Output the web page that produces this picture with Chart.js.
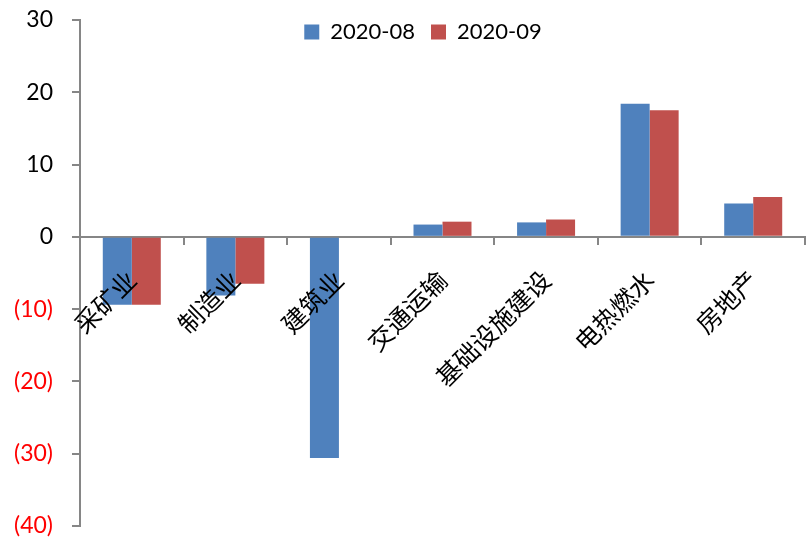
<!DOCTYPE html>
<html>
<head>
<meta charset="utf-8">
<script src="https://cdn.jsdelivr.net/npm/chart.js@4.4.0/dist/chart.umd.min.js"></script>
<style>
  html, body { margin: 0; padding: 0; background: #fff; }
  #wrap { width: 806px; height: 537px; }
</style>
</head>
<body>
<div id="wrap"><canvas id="myChart"></canvas></div>
<script>
const categories = ['采矿业', '制造业', '建筑业', '交通运输', '基础设施建设', '电热燃水', '房地产']
const aug = [-9.4, -8.1, -30.6, 1.7, 2.0, 18.4, 4.6]
const sep = [-9.4, -6.5, null, 2.1, 2.4, 17.5, 5.5]
const seriesNames = ['2020-08', '2020-09']
const yMin = -40
const yMax = 30

const axisGrey = '#868686'

// legend floats inside the plot (excel style) so it must not eat any height
let legendH = 0
const floatingLegend = {
  id: 'floatingLegend',
  afterInit(chart) {
    const lg = chart.legend
    const origFit = lg.fit.bind(lg)
    lg.fit = function () {
      origFit()
      legendH = this.height
      this.height = 0
    }
  },
  afterLayout(chart) {
    const lg = chart.legend
    lg.top = 5
    lg.height = legendH
    lg.bottom = lg.top + legendH
    lg.left += 19
    lg.right += 19
  }
}

const ctx = document.getElementById('myChart')
new Chart(ctx, {
  type: 'bar',
  plugins: [floatingLegend],
  data: {
    labels: categories,
    datasets: [{
      label: seriesNames[0],
      data: aug,
      backgroundColor: '#4F81BD',
      categoryPercentage: 0.56,
      barPercentage: 1
    }, {
      label: seriesNames[1],
      data: sep,
      backgroundColor: '#C0504D',
      categoryPercentage: 0.56,
      barPercentage: 1
    }]
  },
  options: {
    responsive: true,
    maintainAspectRatio: false,
    animation: false,
    layout: { padding: { top: 0, right: 1, bottom: 0, left: 3 } },
    plugins: {
      tooltip: { enabled: false },
      legend: {
        position: 'top',
        align: 'center',
        labels: {
          boxWidth: 15,
          boxHeight: 15,
          padding: 16,
          color: '#000',
          font: { family: 'Lato', size: 22 }
        }
      }
    },
    scales: {
      x: {
        position: { y: 0 },
        afterFit: (scale) => {
          scale.height = 0
          scale.paddingLeft = 0
          scale.paddingRight = 0
          scale.paddingTop = 0
          scale.paddingBottom = 0
        },
        grid: {
          display: true,
          drawOnChartArea: false,
          drawTicks: true,
          tickLength: 7,
          color: axisGrey,
          lineWidth: 2
        },
        border: { color: axisGrey, width: 2 },
        ticks: {
          z: 1,
          minRotation: 45,
          maxRotation: 45,
          padding: 21,
          color: '#000',
          font: { family: 'Noto Sans CJK SC', size: 25 }
        }
      },
      y: {
        min: yMin,
        max: yMax,
        afterFit: (scale) => {
          scale.width = 77
          scale.paddingTop = 20
          scale.paddingBottom = 11
        },
        grid: {
          display: true,
          drawOnChartArea: false,
          drawTicks: true,
          tickLength: 8,
          color: axisGrey,
          lineWidth: 2
        },
        border: { color: axisGrey, width: 2 },
        ticks: {
          stepSize: 10,
          padding: 19,
          font: { family: 'Lato', size: 23 },
          color: (c) => c.tick.value < 0 ? '#FF0000' : '#000',
          callback: (v) => v < 0 ? '(' + (-v) + ')' : v
        }
      }
    }
  }
})
</script>
</body>
</html>
